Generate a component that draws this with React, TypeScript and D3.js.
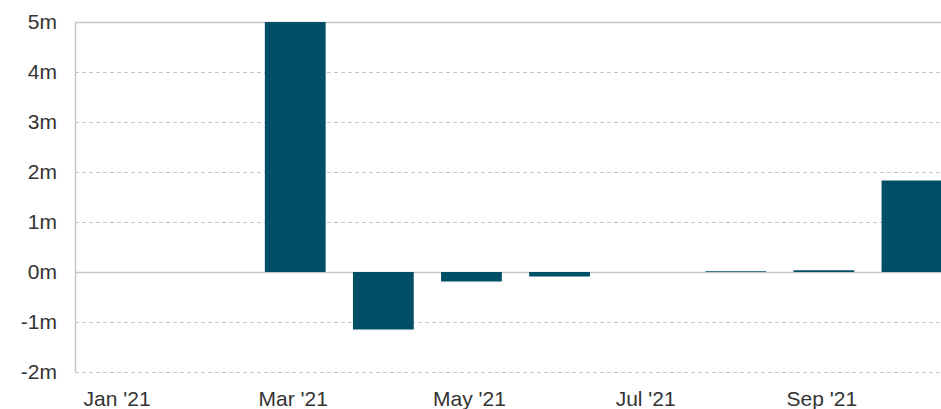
import React, { useEffect, useRef } from 'react';
import * as d3 from 'd3';

const months = ['Jan', 'Feb', 'Mar', 'Apr', 'May', 'Jun', 'Jul', 'Aug', 'Sep', 'Oct'];
const values = [0, 0, 5.0, -1.15, -0.19, -0.09, 0, 0.015, 0.035, 1.83];
const yTicks = [-2, -1, 0, 1, 2, 3, 4, 5];

const W = 941;
const H = 409;

export default function App() {
  const ref = useRef<SVGSVGElement>(null);

  useEffect(() => {
    const svg = d3.select(ref.current);
    svg.selectAll('*').remove();

    const margin = { top: 22, left: 75, bottom: 37 };
    const plotH = H - margin.top - margin.bottom;

    var x = d3
      .scaleBand()
      .domain(months)
      .range([margin.left, 956])
      .paddingInner(0.31)
      .paddingOuter(0.155);

    var y = d3.scaleLinear().domain([-2, 5]).range([margin.top + plotH, margin.top]);

    // grid lines
    svg
      .append('g')
      .selectAll('line')
      .data(yTicks)
      .enter()
      .append('line')
      .attr('x1', margin.left)
      .attr('x2', W)
      .attr('y1', (d) => Math.round(y(d)) + 0.5)
      .attr('y2', (d) => Math.round(y(d)) + 0.5)
      .attr('stroke', '#c6c6c6')
      .attr('stroke-width', (d) => (d === 0 || d === 5 ? 1.5 : 1))
      .attr('stroke-dasharray', (d) => (d === 0 || d === 5 ? null : '4,3'));

    // left axis line
    svg
      .append('line')
      .attr('x1', margin.left + 0.5)
      .attr('x2', margin.left + 0.5)
      .attr('y1', y(5))
      .attr('y2', y(-2))
      .attr('stroke', '#c6c6c6')
      .attr('stroke-width', 1.5);

    // y labels
    svg
      .append('g')
      .selectAll('text')
      .data(yTicks)
      .enter()
      .append('text')
      .attr('x', 57)
      .attr('y', (d) => y(d))
      .attr('dy', '0.35em')
      .attr('text-anchor', 'end')
      .style('font-family', '"Liberation Sans", Arial, sans-serif')
      .style('font-size', '21px')
      .style('fill', '#333')
      .text((d) => d + 'm');

    // bars
    svg
      .append('g')
      .selectAll('rect')
      .data(months)
      .enter()
      .append('rect')
      .attr('x', (d) => x(d)!)
      .attr('width', x.bandwidth())
      .attr('y', (d, i) => y(Math.max(0, values[i])))
      .attr('height', (d, i) => Math.abs(y(values[i]) - y(0)))
      .attr('fill', '#014f66');

    // x labels, every other month
    svg
      .append('g')
      .selectAll('text')
      .data(months.filter((d, i) => i % 2 === 0))
      .enter()
      .append('text')
      .attr('x', (d) => x(d)! + x.bandwidth() / 2 - 2)
      .attr('y', 406)
      .attr('text-anchor', 'middle')
      .style('font-family', '"Liberation Sans", Arial, sans-serif')
      .style('font-size', '21px')
      .style('fill', '#333')
      .text((d) => d + " '21");
  }, []);

  return (
    <svg
      ref={ref}
      width={W}
      height={H}
      style={{ position: 'absolute', left: 0, top: 0, background: '#fff' }}
    />
  );
}
